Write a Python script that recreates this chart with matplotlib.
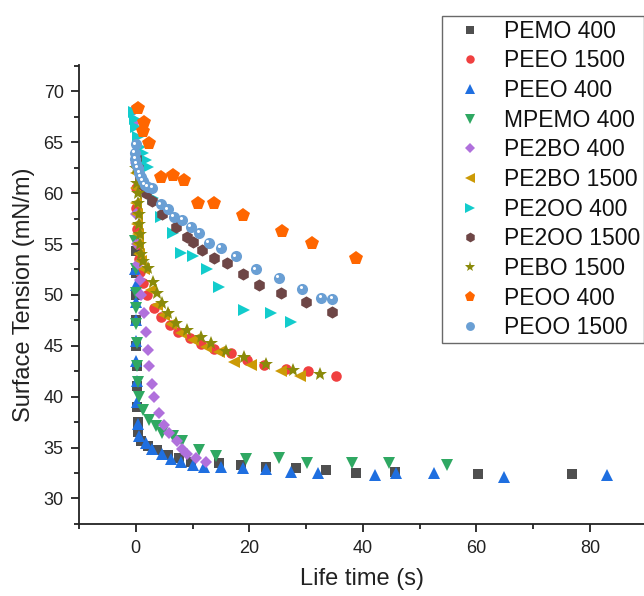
import matplotlib
matplotlib.use('Agg')
import matplotlib.pyplot as plt
import matplotlib.transforms as mtransforms
from matplotlib.ticker import MultipleLocator

plt.rcParams['font.family'] = ['Liberation Sans', 'DejaVu Sans']

# 数据
pemo400_x = [0.0, 0.0, 0.05, 0.1, 0.1, 0.15, 0.2, 0.25, 0.3, 0.4, 0.9, 2.1, 3.8, 5.6, 7.6, 9.7,
             14.7, 18.5, 22.9, 28.2, 33.5, 38.7, 45.6, 60.2, 76.9]
pemo400_y = [54.3, 52.2, 50.0, 47.5, 45.0, 43.0, 41.0, 39.0, 37.5, 36.5, 35.6, 35.1, 34.8, 34.3, 34.0, 33.6,
             33.5, 33.3, 33.1, 33.0, 32.8, 32.5, 32.6, 32.4, 32.4]

peeo1500_x = [0.0, 0.1, 0.2, 0.3, 0.5, 0.8, 1.2, 2.0, 3.2, 4.5, 6.0, 7.5, 9.5, 11.5, 13.8, 16.7,
              19.5, 22.6, 26.4, 30.3, 35.2]
peeo1500_y = [60.5, 58.5, 56.5, 55.0, 53.5, 52.3, 51.2, 50.0, 48.7, 47.8, 47.0, 46.4, 45.8, 45.2, 44.7, 44.3,
              43.6, 43.1, 42.7, 42.5, 42.0]

peeo400_x = [-0.1, 0.0, 0.0, 0.05, 0.1, 0.1, 0.15, 0.2, 0.3, 0.6, 1.8, 2.9, 4.7, 6.2, 7.9, 10.0,
             12.0, 15.0, 18.8, 22.9, 27.4, 32.1, 42.1, 45.8, 52.6, 64.8, 82.9]
peeo400_y = [52.5, 51.0, 49.3, 47.5, 45.5, 43.5, 41.5, 39.5, 37.3, 36.1, 35.4, 34.9, 34.4, 33.9, 33.6, 33.3,
             33.1, 33.1, 33.0, 32.9, 32.6, 32.5, 32.3, 32.5, 32.5, 32.1, 32.3]

mpemo400_x = [-0.1, 0.0, 0.0, 0.05, 0.1, 0.15, 0.2, 0.3, 0.6, 1.2, 2.3, 3.5, 4.7, 6.5, 8.2, 11.2,
              14.1, 19.4, 25.2, 30.1, 38.1, 44.6, 54.8]
mpemo400_y = [55.3, 52.5, 50.2, 48.7, 47.1, 45.3, 43.0, 41.4, 40.0, 38.7, 37.7, 37.1, 36.4, 36.1, 35.6, 34.8,
              34.2, 33.9, 34.0, 33.5, 33.5, 33.5, 33.3]

pe2bo400_x = [-0.3, -0.2, 0.0, 0.1, 0.2, 0.4, 0.7, 1.0, 1.5, 1.8, 2.1, 2.3, 2.9, 3.2, 4.1, 5.0,
              5.9, 7.3, 8.2, 9.1, 10.6, 12.3]
pe2bo400_y = [68.2, 67.0, 63.0, 58.0, 55.0, 53.0, 51.5, 50.0, 48.2, 46.4, 44.6, 43.0, 41.2, 40.0, 38.4, 37.2,
              36.4, 35.6, 34.9, 34.4, 34.0, 33.6]

pe2bo1500_x = [0.0, 0.05, 0.1, 0.15, 0.2, 0.3, 0.4, 0.6, 0.9, 1.5, 2.6, 3.8, 5.0, 6.2, 7.9, 10.0,
               12.3, 14.7, 17.3, 20.2, 25.6, 29.0]
pe2bo1500_y = [62.0, 60.5, 59.0, 58.0, 57.0, 56.0, 55.0, 54.0, 53.3, 52.5, 50.5, 49.0, 48.0, 47.1, 46.3, 45.6,
               44.9, 44.4, 43.4, 43.1, 42.5, 42.0]

pe2oo400_x = [-0.3, -0.1, 0.0, 0.3, 0.8, 1.3, 1.8, 2.1, 3.0, 4.4, 6.5, 7.9, 10.0, 12.6, 14.7, 19.1, 23.8, 27.4]
pe2oo400_y = [68.0, 67.3, 66.5, 65.5, 64.5, 64.0, 63.3, 62.6, 59.5, 57.7, 56.1, 54.1, 53.8, 52.5, 50.8, 48.5, 48.2, 47.3]

pe2oo1500_x = [0.0, 0.3, 0.7, 1.2, 1.8, 2.9, 4.7, 7.0, 9.1, 10.0, 11.7, 13.8, 16.1, 18.8, 21.7, 25.6, 29.9, 34.5]
pe2oo1500_y = [63.5, 62.5, 61.5, 60.8, 60.0, 59.2, 58.0, 56.7, 55.7, 55.2, 54.4, 53.6, 53.1, 52.1, 51.0, 50.2, 49.3, 48.3]

pebo1500_x = [0.1, 0.2, 0.3, 0.4, 0.5, 0.6, 0.7, 0.8, 1.0, 1.3, 2.1, 3.0, 3.8, 4.7, 5.6, 7.0,
              9.1, 11.4, 13.2, 15.8, 19.1, 22.9, 27.6, 32.4]
pebo1500_y = [62.5, 61.0, 60.0, 59.0, 58.0, 57.0, 56.0, 55.0, 54.0, 53.3, 52.6, 51.3, 50.2, 49.2, 48.2, 47.2,
              46.6, 45.9, 45.3, 44.5, 43.9, 43.2, 42.6, 42.2]

peoo400_x = [0.3, 1.2, 1.5, 2.3, 4.4, 6.5, 8.5, 10.9, 13.8, 18.8, 25.8, 31.1, 38.7]
peoo400_y = [68.4, 66.1, 67.0, 64.9, 61.6, 61.8, 61.3, 59.0, 59.0, 57.9, 56.3, 55.1, 53.6]

peoo1500_x = [0.0, -0.2, -0.1, 0.1, 0.3, 0.6, 0.9, 1.2, 1.6, 2.1, 2.9, 4.4, 5.6, 6.7, 8.2, 9.7,
              11.2, 12.9, 15.0, 17.6, 21.1, 25.2, 29.3, 32.7, 34.6]
peoo1500_y = [64.8, 64.0, 63.4, 62.9, 62.5, 62.0, 61.6, 61.2, 60.8, 60.6, 60.5, 58.9, 58.4, 57.7, 57.4, 56.7,
              56.1, 55.1, 54.6, 53.8, 52.5, 51.7, 50.6, 49.7, 49.6]

series = [
    ('PEMO 400', pemo400_x, pemo400_y, 's', '#4f4f4f', 7.2),
    ('PEEO 1500', peeo1500_x, peeo1500_y, 'o', '#f04040', 7.6),
    ('PEEO 400', peeo400_x, peeo400_y, '^', '#1f6fe0', 8.8),
    ('MPEMO 400', mpemo400_x, mpemo400_y, 'v', '#2fa862', 8.8),
    ('PE2BO 400', pe2bo400_x, pe2bo400_y, 'D', '#b070dc', 6.4),
    ('PE2BO 1500', pe2bo1500_x, pe2bo1500_y, '<', '#cc9a06', 8.8),
    ('PE2OO 400', pe2oo400_x, pe2oo400_y, '>', '#12cccc', 8.8),
    ('PE2OO 1500', pe2oo1500_x, pe2oo1500_y, 'h', '#6e4646', 8.8),
    ('PEBO 1500', pebo1500_x, pebo1500_y, '*', '#8a8a0a', 10.0),
    ('PEOO 400', peoo400_x, peoo400_y, 'p', '#ff6600', 10.0),
    ('PEOO 1500', peoo1500_x, peoo1500_y, 'o', '#6a9fd4', 8.0),
]

fig = plt.figure(figsize=(6.44, 5.96), dpi=100)
ax = fig.add_axes([0.1227, 0.1203, 0.8773, 0.7706])

for name, xs, ys, mk, col, ms in series:
    ax.plot(xs, ys, linestyle='none', marker=mk, color=col, markersize=ms,
            markeredgewidth=0, label=name)

# 球形高光
hl = mtransforms.offset_copy(ax.transData, fig=fig, x=-1.2, y=1.2, units='points')
ax.plot(peoo1500_x, peoo1500_y, linestyle='none', marker='o', color='white',
        markersize=2.2, markeredgewidth=0, transform=hl)

ax.set_xlim(-10, 89.5)
ax.set_ylim(27.45, 72.6)
ax.xaxis.set_major_locator(MultipleLocator(20))
ax.xaxis.set_minor_locator(MultipleLocator(10))
ax.yaxis.set_major_locator(MultipleLocator(5))
ax.yaxis.set_minor_locator(MultipleLocator(2.5))
ax.set_xticks([0, 20, 40, 60, 80])
ax.spines['top'].set_visible(False)
ax.spines['right'].set_visible(False)
for s in ['left', 'bottom']:
    ax.spines[s].set_linewidth(1.3)
    ax.spines[s].set_color('#222222')
ax.tick_params(which='major', direction='out', length=6, width=1.3, labelsize=13,
               colors='#222222', pad=5)
ax.tick_params(which='minor', direction='out', length=3.5, width=1.3, colors='#222222')

ax.set_xlabel('Life time (s)', fontsize=17, color='#222222', labelpad=8)
ax.set_ylabel('Surface Tension (mN/m)', fontsize=17, color='#222222', labelpad=6)

leg = fig.legend(loc='upper left', bbox_to_anchor=(441.7 / 644, 1 - 15.7 / 596),
                 fontsize=16.5, frameon=True, fancybox=False, markerscale=0.8,
                 labelspacing=0.29, handlelength=2.1, handletextpad=0.42,
                 borderpad=0.18, borderaxespad=0)
leg.get_frame().set_edgecolor('#444444')
leg.get_frame().set_linewidth(1.0)
for t in leg.get_texts():
    t.set_color('#111111')

fig.savefig('out.png', dpi=100)
